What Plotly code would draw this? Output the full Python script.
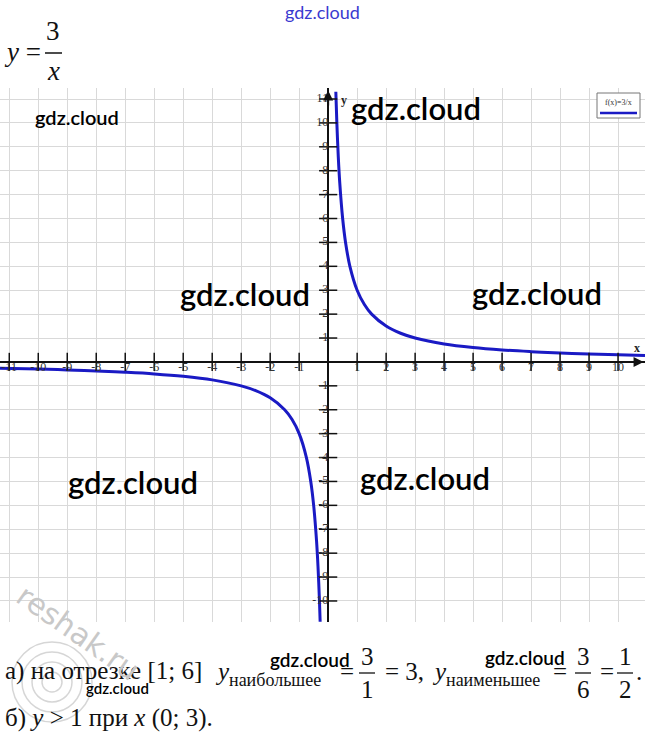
import plotly.graph_objects as go

W, H = 645, 732

# ---- data ----
pos_x = [0.265, 0.3, 0.35, 0.4, 0.5, 0.6, 0.75, 1.0, 1.25, 1.5, 2.0, 2.5, 3.0, 4.0, 5.0, 6.0, 7.0, 8.0, 9.0, 10.0, 10.93]
pos_y = [11.3, 10.0, 8.57, 7.5, 6.0, 5.0, 4.0, 3.0, 2.4, 2.0, 1.5, 1.2, 1.0, 0.75, 0.6, 0.5, 0.43, 0.375, 0.333, 0.3, 0.274]
neg_x = [-11.32, -10, -9, -8, -7, -6, -5, -4, -3, -2.5, -2, -1.5, -1.25, -1, -0.75, -0.6, -0.5, -0.4, -0.35, -0.3, -0.276]
neg_y = [-0.265, -0.3, -0.333, -0.375, -0.43, -0.5, -0.6, -0.75, -1.0, -1.2, -1.5, -2.0, -2.4, -3.0, -4.0, -5.0, -6.0, -7.5, -8.57, -10.0, -10.87]

x_ticks = [-11, -10, -9, -8, -7, -6, -5, -4, -3, -2, -1, 1, 2, 3, 4, 5, 6, 7, 8, 9, 10]
y_ticks = [-10, -9, -8, -7, -6, -5, -4, -3, -2, -1, 1, 2, 3, 4, 5, 6, 7, 8, 9, 10, 11]
x_tick_labels = [str(v) for v in x_ticks]
y_tick_labels = [str(v) for v in y_ticks]

X_RANGE = [-11.32, 10.93]
Y_RANGE = [-10.88, 11.46]
PLOT_TOP, PLOT_BOT = 88, 622

CURVE = "#1a1ac4"
SERIF = "Times New Roman, Liberation Serif, DejaVu Serif, serif"


def px(x):
    return x / W


def py(y):
    return 1 - y / H


fig = go.Figure()

fig.add_trace(go.Scatter(x=pos_x, y=pos_y, mode="lines", line=dict(color=CURVE, width=3, shape="spline"),
                         hoverinfo="skip", showlegend=False))
fig.add_trace(go.Scatter(x=neg_x, y=neg_y, mode="lines", line=dict(color=CURVE, width=3, shape="spline"),
                         hoverinfo="skip", showlegend=False))

# tick crosses on axes
fig.add_trace(go.Scatter(x=x_ticks, y=[0] * len(x_ticks), mode="markers",
                         marker=dict(symbol="line-ns", size=13, line=dict(color="#111", width=1.5)),
                         hoverinfo="skip", showlegend=False))
fig.add_trace(go.Scatter(x=[0] * len(y_ticks), y=y_ticks, mode="markers",
                         marker=dict(symbol="line-ew", size=13, line=dict(color="#111", width=1.5)),
                         hoverinfo="skip", showlegend=False))
# tick labels
fig.add_trace(go.Scatter(x=x_ticks, y=[0] * len(x_ticks), mode="text", text=x_tick_labels,
                         textposition="bottom center", textfont=dict(family=SERIF, size=12, color="#333"),
                         hoverinfo="skip", showlegend=False))
fig.add_trace(go.Scatter(x=[0] * len(y_ticks), y=y_ticks, mode="text", text=y_tick_labels,
                         textposition="middle left", textfont=dict(family=SERIF, size=12, color="#333"),
                         hoverinfo="skip", showlegend=False))

ydom = [1 - PLOT_BOT / H, 1 - PLOT_TOP / H]
fig.update_layout(
    width=W, height=H, margin=dict(l=0, r=0, t=0, b=0),
    paper_bgcolor="white", plot_bgcolor="white",
    xaxis=dict(domain=[0, 1], range=X_RANGE, dtick=1, tick0=0, showgrid=True, gridcolor="#d9d9d9", gridwidth=1,
               zeroline=True, zerolinecolor="#111", zerolinewidth=2, showticklabels=False, ticks="",
               showline=False, fixedrange=True),
    yaxis=dict(domain=ydom, range=Y_RANGE, dtick=1, tick0=0, showgrid=True, gridcolor="#d9d9d9", gridwidth=1,
               zeroline=True, zerolinecolor="#111", zerolinewidth=2, showticklabels=False, ticks="",
               showline=False, fixedrange=True),
)

ann = []
shapes = []

# arrowheads on the axes
ann.append(dict(x=X_RANGE[1] - 0.05, y=0, ax=X_RANGE[1] - 0.6, ay=0, xref="x", yref="y", axref="x", ayref="y",
                showarrow=True, arrowhead=2, arrowsize=1, arrowwidth=2, arrowcolor="#111", text=""))
ann.append(dict(x=0, y=Y_RANGE[1] - 0.1, ax=0, ay=Y_RANGE[1] - 0.8, xref="x", yref="y", axref="x", ayref="y",
                showarrow=True, arrowhead=2, arrowsize=1, arrowwidth=2, arrowcolor="#111", text=""))


def txt(x, y, s, size, anchor="left", color="#111", family=SERIF, angle=0, weight="normal"):
    ann.append(dict(x=px(x), y=py(y), xref="paper", yref="paper", xanchor=anchor, yanchor="middle", text=s,
                    showarrow=False, textangle=angle,
                    font=dict(family=family, size=size, color=color, weight=weight)))


# axis names
txt(637, 348, "<b>x</b>", 12, anchor="center", color="#222")
txt(344, 100, "<b>y</b>", 12, anchor="center", color="#222")

# legend box
shapes.append(dict(type="rect", xref="paper", yref="paper", x0=px(597), x1=px(640), y0=py(118), y1=py(93),
                   line=dict(color="#777", width=1), fillcolor="white"))
shapes.append(dict(type="line", xref="paper", yref="paper", x0=px(600), x1=px(637), y0=py(113), y1=py(113),
                   line=dict(color=CURVE, width=2.5)))
txt(618.5, 102, "f(x)=3/x", 8, anchor="center", color="#333")

# header formula y = 3/x
txt(2, 52, "<i>y</i> =", 27)
txt(53, 31, "3", 27, anchor="center")
shapes.append(dict(type="line", xref="paper", yref="paper", x0=px(45), x1=px(62), y0=py(53), y1=py(53),
                   line=dict(color="#111", width=1.5)))
txt(53, 71, "<i>x</i>", 27, anchor="center")

# bottom text line a)
TS = 25
YA = 671


def frac(xc, num, den):
    txt(xc, 656, num, TS, anchor="center")
    txt(xc, 689, den, TS, anchor="center")
    shapes.append(dict(type="line", xref="paper", yref="paper", x0=px(xc - 8), x1=px(xc + 8), y0=py(673),
                       y1=py(673), line=dict(color="#111", width=1.3)))


txt(3, YA, "а) на отрезке [1; 6]", TS)
txt(213, YA, "<i>y</i>", TS)
txt(227, YA + 9, "наибольшее", 18)
txt(338, YA, "=", TS)
frac(367, "3", "1")
txt(383, YA, "= 3,", TS)
txt(430, YA, "<i>y</i>", TS)
txt(444, YA + 9, "наименьшее", 18)
txt(551, YA, "=", TS)
frac(583, "3", "6")
txt(598, YA, "=", TS)
frac(625, "1", "2")
txt(634, YA, ".", TS)
txt(3, 718, "б) <i>y</i> > 1 при <i>x</i> (0; 3).", TS)

# watermarks
WM = "Lato"
wm_list = [(416, 108, 31), (245, 294, 31), (537, 293, 31), (133, 482, 31), (425, 478, 31), (77, 117, 20),
           (310, 659, 19), (525, 657, 19), (117, 688, 15)]
for (x, y, s) in wm_list:
    txt(x, y, "gdz.cloud", s, anchor="center", color="#000", family=WM, weight=600)
txt(322, 12, "gdz.cloud", 18, anchor="center", color="#3a3ad0", family=WM)

# reshak stamp
for r in [10, 20, 30, 40]:
    shapes.append(dict(type="circle", xref="paper", yref="paper", x0=px(52 - r), x1=px(52 + r),
                       y0=py(682 + r), y1=py(682 - r), line=dict(color="#d6d6d6", width=1.5)))
txt(78, 632, "reshak.ru", 30, anchor="center", color="#c8c8c8", family="DejaVu Sans", angle=35)

fig.update_layout(annotations=ann, shapes=shapes)
fig.write_html("out.html", post_script="document.body.style.margin='0';", config={"displayModeBar": False})
